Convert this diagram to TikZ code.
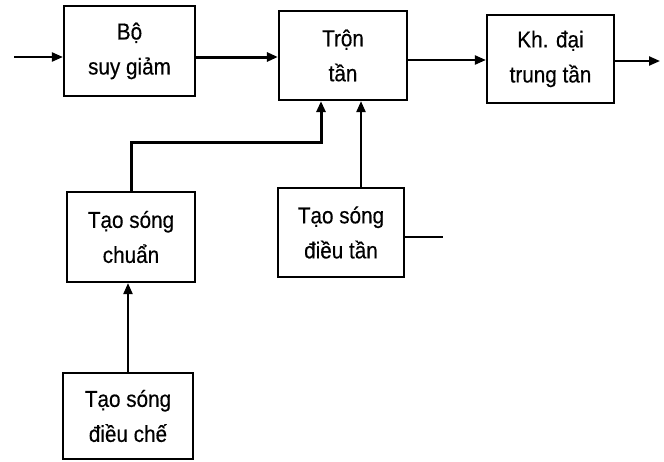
\documentclass[tikz,border=0pt]{standalone}
\usepackage{fontspec}
\setmainfont{Liberation Sans}[FakeStretch=0.9,FakeBold=0.4]
\usetikzlibrary{arrows.meta}
\begin{document}
\begin{tikzpicture}[x=1pt,y=-1pt,
  blk/.style={draw=black,line width=2.2pt,align=center,inner sep=0pt,
    font=\fontsize{23}{35}\selectfont},
  arr/.style={line width=2.2pt,-{Triangle[length=11pt,width=9pt]}},
  ln/.style={line width=2.2pt},
  heavy/.style={line width=3pt,-{Triangle[length=11pt,width=9pt]}}]
\useasboundingbox (0,0) rectangle (664,461);
\node[blk,minimum width=131pt,minimum height=90pt] (sb) at (129.5,51) {Bộ\\suy giảm};
\node[blk,minimum width=128pt,minimum height=89pt] (tron) at (343,55.5) {Trộn\\tần};
\node[blk,minimum width=127pt,minimum height=88pt] (kh) at (550.5,59) {Kh. đại\\trung tần};
\node[blk,minimum width=128pt,minimum height=90pt] (chuan) at (131,237) {Tạo sóng\\chuẩn};
\node[blk,minimum width=126pt,minimum height=89pt] (dt) at (341,232.5) {Tạo sóng\\điều tần};
\node[blk,minimum width=130pt,minimum height=86pt] (dc) at (128,416) {Tạo sóng\\điều chế};
\coordinate (in) at (14,57);
\coordinate (out) at (660,61);
\coordinate (bend) at (321,142);
\coordinate (dtout) at (443,237);
\draw[arr] (in) -- (in -| sb.west);
\draw[heavy] ([yshift=-6pt]sb.east) -- ([yshift=-6pt]sb.east -| tron.west);
\draw[arr] ([yshift=-1pt]kh.west -| tron.east) -- ([yshift=-1pt]kh.west);
\draw[arr] (out -| kh.east) -- (out);
\draw[heavy] (chuan.north) |- (bend) -- (bend |- tron.south);
\draw[arr] ([xshift=20pt]dt.north) -- ([xshift=20pt]dt.north |- tron.south);
\draw[ln] (dtout -| dt.east) -- (dtout);
\draw[arr] (dc.north) -- (dc.north |- chuan.south);
\end{tikzpicture}
\end{document}
